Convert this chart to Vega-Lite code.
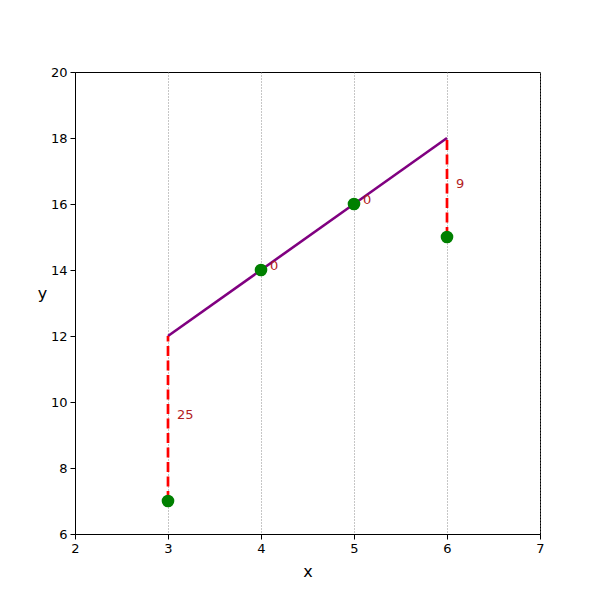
{
  "$schema": "https://vega.github.io/schema/vega-lite/v6.json",
  "width": 465,
  "height": 462,
  "autosize": {"type": "none"},
  "padding": {"left": 75, "top": 72, "right": 60, "bottom": 66},
  "background": "white",
  "config": {
    "font": "DejaVu Sans",
    "view": {"stroke": "black", "strokeWidth": 1},
    "axis": {
      "labelFont": "DejaVu Sans",
      "titleFont": "DejaVu Sans",
      "labelFontSize": 13,
      "titleFontSize": 16,
      "titleFontWeight": "normal",
      "labelColor": "black",
      "titleColor": "black",
      "domainColor": "black",
      "tickColor": "black",
      "tickSize": 5,
      "labelPadding": 3,
      "labelFlush": false
    }
  },
  "data": {
    "values": [
      {"x": 3, "y": 7, "yhat": 12, "ly": 9.5, "sq": 25},
      {"x": 4, "y": 14, "yhat": 14, "ly": 14, "sq": 0},
      {"x": 5, "y": 16, "yhat": 16, "ly": 16, "sq": 0},
      {"x": 6, "y": 15, "yhat": 18, "ly": 16.5, "sq": 9}
    ]
  },
  "layer": [
    {
      "mark": {"type": "line", "color": "purple", "strokeWidth": 2.6},
      "encoding": {
        "x": {
          "field": "x", "type": "quantitative",
          "scale": {"domain": [2, 7], "nice": false},
          "axis": {"values": [2, 3, 4, 5, 6, 7], "format": "d", "title": "x", "grid": true, "gridColor": "#808080", "gridDash": [1, 2], "gridWidth": 0.9, "titlePadding": 8}
        },
        "y": {
          "field": "yhat", "type": "quantitative",
          "scale": {"domain": [6, 20], "nice": false},
          "axis": {"values": [6, 8, 10, 12, 14, 16, 18, 20], "format": "d", "title": "y", "grid": false, "titleAngle": 0, "titleAlign": "center", "titleBaseline": "middle", "titleX": -33, "titleY": 221}
        }
      }
    },
    {
      "mark": {"type": "rule", "color": "red", "strokeWidth": 2.7, "strokeDash": [10, 4.5]},
      "encoding": {
        "x": {"field": "x", "type": "quantitative"},
        "y": {"field": "y", "type": "quantitative"},
        "y2": {"field": "yhat"}
      }
    },
    {
      "mark": {"type": "circle", "color": "green", "size": 160, "opacity": 1},
      "encoding": {
        "x": {"field": "x", "type": "quantitative"},
        "y": {"field": "y", "type": "quantitative"}
      }
    },
    {
      "mark": {"type": "text", "align": "left", "baseline": "alphabetic", "dx": 9, "fontSize": 13, "color": "#b22222"},
      "encoding": {
        "x": {"field": "x", "type": "quantitative"},
        "y": {"field": "ly", "type": "quantitative"},
        "text": {"field": "sq", "type": "quantitative"}
      }
    }
  ]
}
